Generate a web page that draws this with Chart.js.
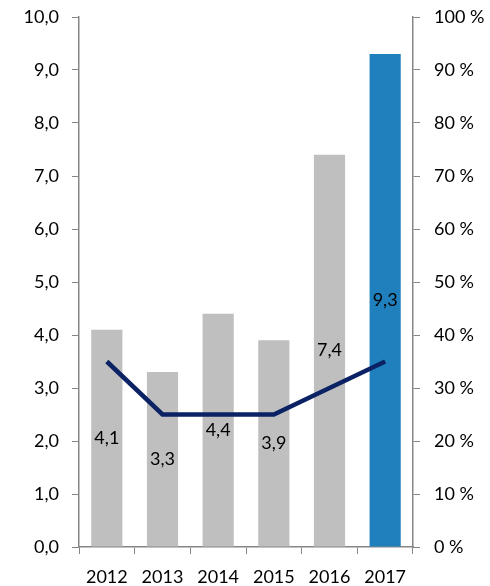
<!DOCTYPE html>
<html>
<head>
<meta charset="utf-8">
<script src="https://cdn.jsdelivr.net/npm/chart.js@4/dist/chart.umd.min.js"></script>
<style>
  html, body { margin: 0; padding: 0; background: #fff; }
  #wrap { width: 490px; height: 586px; }
</style>
</head>
<body>
<div id="wrap"><canvas id="c" width="490" height="586"></canvas></div>
<script>
const categories = ["2012", "2013", "2014", "2015", "2016", "2017"];
const barValues = [4.1, 3.3, 4.4, 3.9, 7.4, 9.3];
const lineValues = [35, 25, 25, 25, 30, 35];
const barColors = ["#BFBFBF", "#BFBFBF", "#BFBFBF", "#BFBFBF", "#BFBFBF", "#1F80BD"];
const leftTickLabels = ["0,0", "1,0", "2,0", "3,0", "4,0", "5,0", "6,0", "7,0", "8,0", "9,0", "10,0"];
const rightTickLabels = ["0 %", "10 %", "20 %", "30 %", "40 %", "50 %", "60 %", "70 %", "80 %", "90 %", "100 %"];

const FONT = "Lato";
const axisColor = "#868686";

const barLabels = {
  id: "barLabels",
  afterDatasetsDraw(chart) {
    const ctx = chart.ctx;
    const meta = chart.getDatasetMeta(1);
    ctx.save();
    ctx.font = "18px " + FONT;
    ctx.fillStyle = "#000";
    ctx.textAlign = "center";
    ctx.textBaseline = "middle";
    meta.data.forEach((el, i) => {
      const y = (el.y + el.base) / 2;
      ctx.fillText(barValues[i].toFixed(1).replace(".", ","), el.x, y);
    });
    ctx.restore();
  }
};

new Chart(document.getElementById("c"), {
  data: {
    labels: categories,
    datasets: [
      {
        type: "line",
        data: lineValues,
        yAxisID: "y2",
        borderColor: "#0B2265",
        borderWidth: 4.5,
        pointRadius: 0,
        tension: 0,
        order: 0
      },
      {
        type: "bar",
        data: barValues,
        yAxisID: "y",
        backgroundColor: barColors,
        barPercentage: 0.56,
        categoryPercentage: 1.0,
        order: 1
      }
    ]
  },
  options: {
    responsive: false,
    animation: false,
    layout: { padding: { top: 17, left: 0, right: 0, bottom: 0 } },
    plugins: { legend: { display: false }, tooltip: { enabled: false } },
    scales: {
      x: {
        offset: true,
        grid: { offset: true, drawOnChartArea: false, tickLength: 7, color: axisColor, tickColor: axisColor },
        border: { color: axisColor, width: 1.5 },
        ticks: { font: { family: FONT, size: 18 }, color: "#000", padding: 12, maxRotation: 0 },
        afterFit(s) { s.height = 39; s.paddingLeft = 0; s.paddingRight = 0; }
      },
      y: {
        position: "left",
        min: 0, max: 10,
        grid: { drawOnChartArea: false, tickLength: 7, color: axisColor, tickColor: axisColor },
        border: { color: axisColor, width: 1.5 },
        ticks: {
          stepSize: 1,
          font: { family: FONT, size: 18 },
          color: "#000",
          padding: 13,
          callback: (v, i) => leftTickLabels[i]
        },
        afterFit(s) { s.width = 79; s.paddingTop = 0; s.paddingBottom = 0; }
      },
      y2: {
        position: "right",
        min: 0, max: 100,
        grid: { drawOnChartArea: false, tickLength: 7, color: axisColor, tickColor: axisColor },
        border: { color: axisColor, width: 1.5 },
        ticks: {
          stepSize: 10,
          font: { family: FONT, size: 18 },
          color: "#000",
          padding: 14,
          callback: (v, i) => rightTickLabels[i]
        },
        afterFit(s) { s.width = 77; s.paddingTop = 0; s.paddingBottom = 0; }
      }
    }
  },
  plugins: [barLabels]
});
</script>
</body>
</html>
